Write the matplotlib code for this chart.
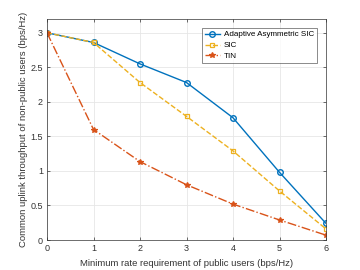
import matplotlib
matplotlib.use("Agg")
import matplotlib.pyplot as plt

plt.rcParams['font.family'] = ['Liberation Sans', 'DejaVu Sans']

x = [0, 1, 2, 3, 4, 5, 6]
adaptive = [3.0, 2.86, 2.55, 2.28, 1.77, 0.98, 0.24]
sic = [3.0, 2.86, 2.28, 1.79, 1.29, 0.71, 0.16]
tin = [3.0, 1.60, 1.135, 0.80, 0.52, 0.29, 0.07]

fig = plt.figure(figsize=(3.6, 2.7), dpi=100)
ax = fig.add_axes([47/360, 1-240/270, (326-47)/360, (240-19)/270])

ax.plot(x, adaptive, '-o', color='#0072BD', lw=1.0, ms=4, mfc='none', mew=1.0, label='Adaptive Asymmetric SIC')
ax.plot(x, sic, '--s', color='#EDB120', lw=1.0, ms=3.5, mfc='none', mew=0.9, label='SIC')
ax.plot(x, tin, '-.*', color='#D95319', lw=1.0, ms=4, mew=0.9, label='TIN')

ax.set_xlim(0, 6)
ax.set_ylim(0, 3.2)
ax.set_xticks(range(7))
ax.set_yticks([0, 0.5, 1, 1.5, 2, 2.5, 3])
ax.set_yticklabels(['0', '0.5', '1', '1.5', '2', '2.5', '3'])
ax.grid(True, color='#e6e6e6', lw=0.6)
ax.set_axisbelow(True)
ax.tick_params(direction='in', length=2.5, width=0.5, labelsize=6.5, colors='#333333', top=True, right=True, pad=3)
for s in ax.spines.values():
    s.set_color('#333333')
    s.set_linewidth(0.5)
ax.set_xlabel('Minimum rate requirement of public users (bps/Hz)', fontsize=6.8, color='#333333', labelpad=4)
ax.set_ylabel('Common uplink throughput of non-public users (bps/Hz)', fontsize=6.8, color='#333333', labelpad=2)
leg = ax.legend(loc='upper right', fontsize=5.8, frameon=True, fancybox=False, edgecolor='#333333',
                borderpad=0.35, labelspacing=0.4, handlelength=1.9, handletextpad=0.5,
                bbox_to_anchor=(317/360, 1-28/270), bbox_transform=fig.transFigure, borderaxespad=0)
leg.get_frame().set_linewidth(0.5)
fig.savefig('out.png', dpi=100)
